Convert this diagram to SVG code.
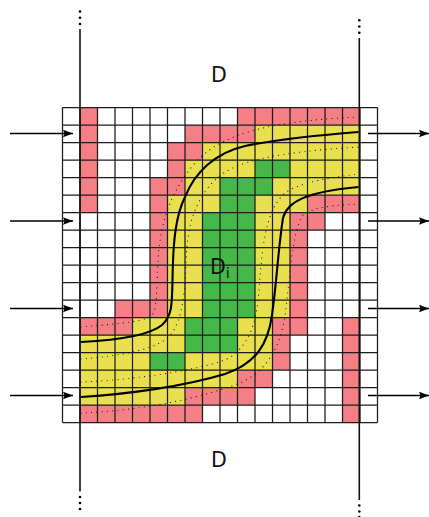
<svg xmlns="http://www.w3.org/2000/svg" width="429" height="517" viewBox="0 0 429 517">
<style>
.p{fill:#f47f84}.y{fill:#e8e04e}.g{fill:#46b84a}
.grid{fill:none;stroke:#1c1c1c;stroke-width:1.25}
.v{fill:none;stroke:#111;stroke-width:1.6}
.a{fill:none;stroke:#000;stroke-width:1.5;marker-end:url(#ah)}
.s{fill:none;stroke:#000;stroke-width:2.1}
.d{fill:none;stroke:#111;stroke-width:1.1;stroke-linecap:round;stroke-dasharray:0.1 5.2}
text{font-family:"DejaVu Sans",sans-serif;fill:#111}
.dot{fill:#000}
</style>
<defs><marker id="ah" markerUnits="userSpaceOnUse" markerWidth="11" markerHeight="8" refX="10" refY="4" orient="auto"><path d="M0 0.2L10 4L0 7.8L1.6 4Z" fill="#000"/></marker></defs>
<rect width="429" height="517" fill="#fff"/>
<g id="cells">
<rect class="p" x="80" y="107.5" width="17.5" height="105"/>
<rect class="p" x="237.5" y="107.5" width="122.5" height="17.5"/>
<rect class="p" x="185" y="125" width="70" height="17.5"/>
<rect class="p" x="167.5" y="142.5" width="35" height="17.5"/>
<rect class="p" x="167.5" y="160" width="17.5" height="17.5"/>
<rect class="p" x="150" y="177.5" width="35" height="17.5"/>
<rect class="p" x="150" y="195" width="17.5" height="105"/>
<rect class="p" x="115" y="300" width="52.5" height="17.5"/>
<rect class="p" x="80" y="317.5" width="52.5" height="17.5"/>
<rect class="p" x="185" y="387.5" width="70" height="17.5"/>
<rect class="p" x="237.5" y="370" width="35" height="17.5"/>
<rect class="p" x="272.5" y="317.5" width="17.5" height="52.5"/>
<rect class="p" x="290" y="212.5" width="17.5" height="122.5"/>
<rect class="p" x="307.5" y="195" width="52.5" height="17.5"/>
<rect class="p" x="307.5" y="212.5" width="17.5" height="17.5"/>
<rect class="p" x="80" y="405" width="122.5" height="17.5"/>
<rect class="p" x="342.5" y="317.5" width="17.5" height="105"/>
<rect class="y" x="255" y="125" width="105" height="17.5"/>
<rect class="y" x="202.5" y="142.5" width="157.5" height="17.5"/>
<rect class="y" x="185" y="160" width="175" height="35"/>
<rect class="y" x="167.5" y="195" width="140" height="17.5"/>
<rect class="y" x="167.5" y="212.5" width="122.5" height="105"/>
<rect class="y" x="132.5" y="317.5" width="140" height="17.5"/>
<rect class="y" x="80" y="335" width="192.5" height="35"/>
<rect class="y" x="80" y="370" width="157.5" height="17.5"/>
<rect class="y" x="80" y="387.5" width="105" height="17.5"/>
<rect class="g" x="255" y="160" width="35" height="17.5"/>
<rect class="g" x="220" y="177.5" width="52.5" height="17.5"/>
<rect class="g" x="220" y="195" width="35" height="17.5"/>
<rect class="g" x="202.5" y="212.5" width="52.5" height="105"/>
<rect class="g" x="185" y="317.5" width="52.5" height="35"/>
<rect class="g" x="150" y="352.5" width="35" height="17.5"/>
</g>
<path id="gridlines" class="grid" d="M62.5 107.5V422.5M80 107.5V422.5M97.5 107.5V422.5M115 107.5V422.5M132.5 107.5V422.5M150 107.5V422.5M167.5 107.5V422.5M185 107.5V422.5M202.5 107.5V422.5M220 107.5V422.5M237.5 107.5V422.5M255 107.5V422.5M272.5 107.5V422.5M290 107.5V422.5M307.5 107.5V422.5M325 107.5V422.5M342.5 107.5V422.5M360 107.5V422.5M377.5 107.5V422.5M62.5 107.5H377.5M62.5 125H377.5M62.5 142.5H377.5M62.5 160H377.5M62.5 177.5H377.5M62.5 195H377.5M62.5 212.5H377.5M62.5 230H377.5M62.5 247.5H377.5M62.5 265H377.5M62.5 282.5H377.5M62.5 300H377.5M62.5 317.5H377.5M62.5 335H377.5M62.5 352.5H377.5M62.5 370H377.5M62.5 387.5H377.5M62.5 405H377.5M62.5 422.5H377.5"/>
<g id="curves">
<path class="d" d="M81 327C115 324 140 322 150 317C158 312 156 290 158 262C160 220 172 190 195 163C215 140 250 128 298 122C320 119 340 118 358 117"/>
<path class="d" d="M81 359C120 356 150 350 165 340C180 330 185 300 186 263C187 225 195 200 215 180C235 160 280 152 358 147"/>
<path class="d" d="M81 382C130 380 190 372 225 360C250 348 257 320 259 290C262 250 265 210 285 193C300 182 330 178 358 174"/>
<path class="d" d="M81 413C130 411 190 402 240 383C265 372 280 350 285 315C290 280 292 230 303 215C315 206 340 205 358 204"/>
<path class="s" d="M81 342C120 340 150 335 162 325C172 316 172 305 172.5 280C173 240 176 215 185 197C195 172 215 153 245 146C280 139 320 135 358.5 132"/>
<path class="s" d="M81 397C130 394 185 386 225 374C255 364 268 345 272 315C277 280 278 250 283 218C287 202 305 192 358.5 187"/>
</g>
<g id="connectors">
<path class="v" d="M80 29V491.5"/>
<path class="v" d="M359.3 38V500"/>
<path class="a" d="M10 133.5H73"/>
<path class="a" d="M10 221H73"/>
<path class="a" d="M10 308.5H73"/>
<path class="a" d="M10 395.5H73"/>
<path class="a" d="M368 133.5H429"/>
<path class="a" d="M368 221H429"/>
<path class="a" d="M368 308.5H429"/>
<path class="a" d="M368 395.5H429"/>
</g>
<g id="ellipses">
<circle class="dot" cx="80" cy="11.5" r="1.3"/><circle class="dot" cx="80" cy="17.7" r="1.3"/><circle class="dot" cx="80" cy="24" r="1.3"/>
<circle class="dot" cx="359.3" cy="20.3" r="1.3"/><circle class="dot" cx="359.3" cy="26.5" r="1.3"/><circle class="dot" cx="359.3" cy="32.7" r="1.3"/>
<circle class="dot" cx="80" cy="497" r="1.3"/><circle class="dot" cx="80" cy="503" r="1.3"/><circle class="dot" cx="80" cy="509" r="1.3"/>
<circle class="dot" cx="359.3" cy="505.5" r="1.3"/><circle class="dot" cx="359.3" cy="511.5" r="1.3"/><circle class="dot" cx="359.3" cy="517" r="1.3"/>
</g>
<g id="labels">
<text x="219" y="81.5" font-size="20.5" text-anchor="middle">D</text>
<text x="219" y="466.5" font-size="20.5" text-anchor="middle">D</text>
<text x="210" y="273.5" font-size="20.5">D<tspan font-size="14.5" dy="4.5">i</tspan></text>
</g>
</svg>
